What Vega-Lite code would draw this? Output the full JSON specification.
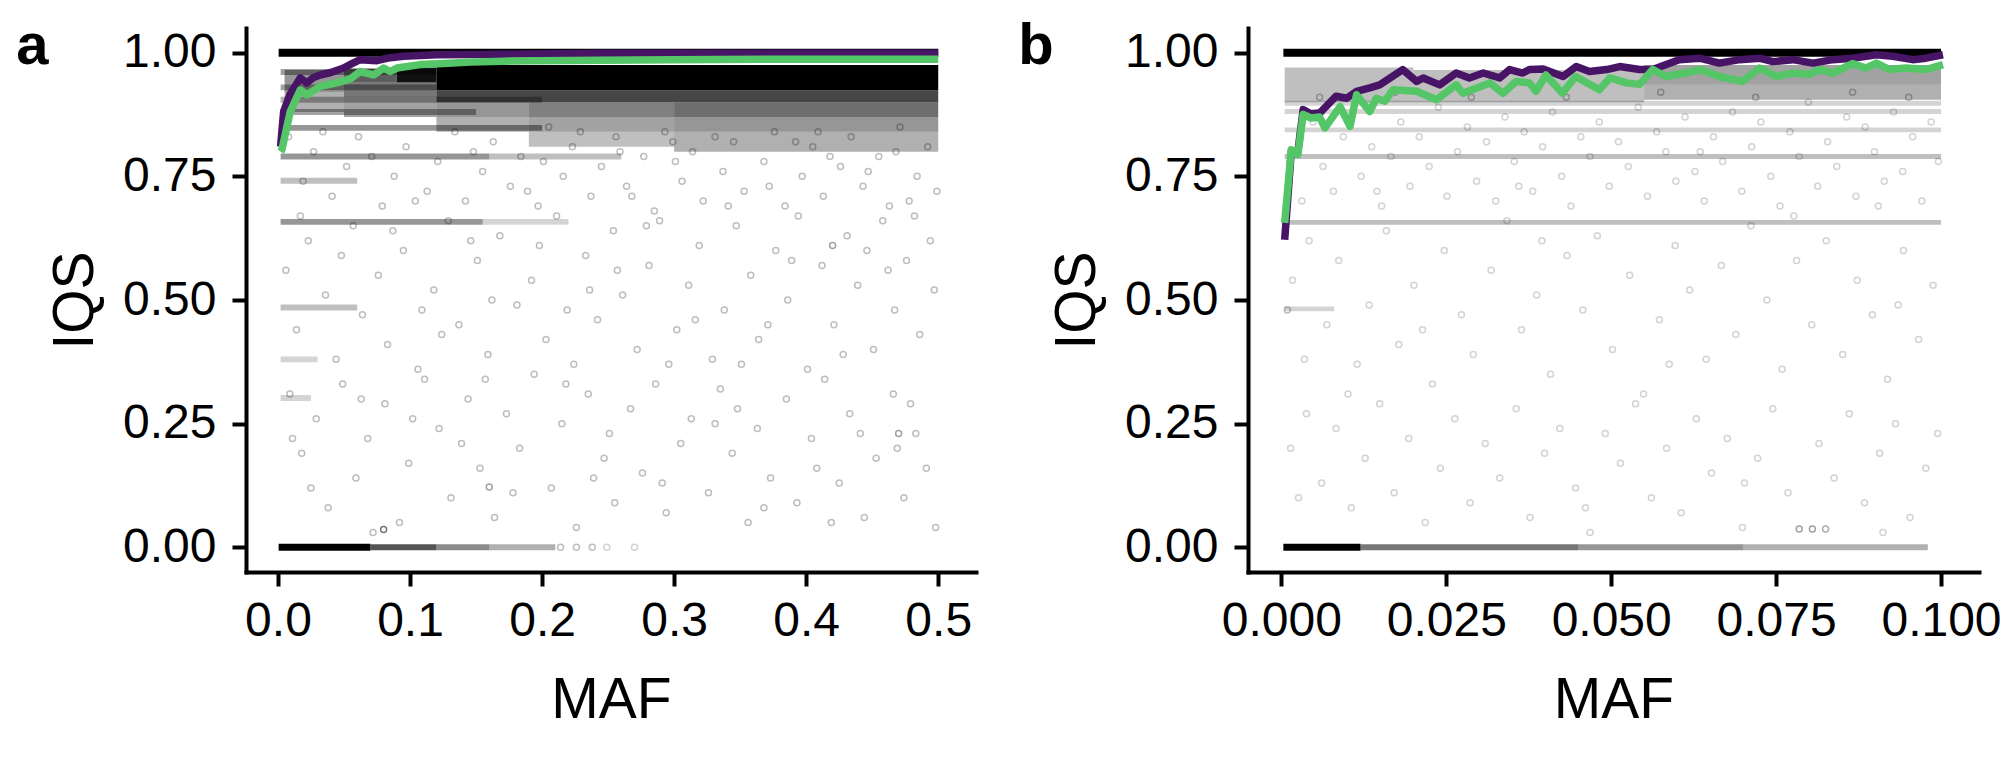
{
  "$schema": "https://vega.github.io/schema/vega-lite/v6.json",
  "background": "white",
  "autosize": {"type": "pad"},
  "padding": {"left": 16, "top": 18, "right": 0, "bottom": 0},
  "config": {
    "view": {"stroke": null},
    "font": "Liberation Sans",
    "axis": {
      "grid": false,
      "domainColor": "black", "domainWidth": 4, "domainCap": "square",
      "tickColor": "black", "tickWidth": 4, "tickSize": 14,
      "labelFont": "Liberation Sans", "labelFontSize": 48, "labelColor": "black",
      "labelFlush": false, "labelOverlap": false,
      "titleFont": "Liberation Sans", "titleFontSize": 57, "titleFontWeight": "normal", "titleColor": "black"
    },
    "axisX": {"labelPadding": 11, "titlePadding": 27},
    "axisY": {"labelPadding": 16, "titlePadding": 18},
    "title": {"font": "Liberation Sans", "fontSize": 58, "fontWeight": "bold", "color": "black", "anchor": "start", "frame": "group", "offset": 0, "baseline": "alphabetic"}
  },
  "datasets": {
    "bands_a": [
      {"maf": 0.0005, "maf_end": 0.5, "iqs": 0.992, "iqs_end": 1.008, "n": 40},
      {"maf": 0.12, "maf_end": 0.5, "iqs": 0.955, "iqs_end": 0.975, "n": 40},
      {"maf": 0.12, "maf_end": 0.5, "iqs": 0.937, "iqs_end": 0.955, "n": 25},
      {"maf": 0.12, "maf_end": 0.5, "iqs": 0.924, "iqs_end": 0.937, "n": 40},
      {"maf": 0.12, "maf_end": 0.5, "iqs": 0.9, "iqs_end": 0.924, "n": 14},
      {"maf": 0.3, "maf_end": 0.5, "iqs": 0.87, "iqs_end": 0.9, "n": 9},
      {"maf": 0.3, "maf_end": 0.5, "iqs": 0.84, "iqs_end": 0.87, "n": 5},
      {"maf": 0.3, "maf_end": 0.5, "iqs": 0.8, "iqs_end": 0.84, "n": 3},
      {"maf": 0.19, "maf_end": 0.3, "iqs": 0.87, "iqs_end": 0.9, "n": 7},
      {"maf": 0.19, "maf_end": 0.3, "iqs": 0.84, "iqs_end": 0.87, "n": 4},
      {"maf": 0.19, "maf_end": 0.3, "iqs": 0.81, "iqs_end": 0.84, "n": 2},
      {"maf": 0.12, "maf_end": 0.19, "iqs": 0.87, "iqs_end": 0.9, "n": 5},
      {"maf": 0.12, "maf_end": 0.19, "iqs": 0.84, "iqs_end": 0.87, "n": 3},
      {"maf": 0.09, "maf_end": 0.12, "iqs": 0.94, "iqs_end": 0.97, "n": 22},
      {"maf": 0.05, "maf_end": 0.09, "iqs": 0.94, "iqs_end": 0.968, "n": 11},
      {"maf": 0.05, "maf_end": 0.12, "iqs": 0.91, "iqs_end": 0.94, "n": 8},
      {"maf": 0.05, "maf_end": 0.12, "iqs": 0.87, "iqs_end": 0.91, "n": 4},
      {"maf": 0.005, "maf_end": 0.05, "iqs": 0.92, "iqs_end": 0.965, "n": 5},
      {"maf": 0.005, "maf_end": 0.05, "iqs": 0.88, "iqs_end": 0.92, "n": 3},
      {"maf": 0.002, "maf_end": 0.12, "iqs": 0.955, "iqs_end": 0.967, "n": 4},
      {"maf": 0.002, "maf_end": 0.12, "iqs": 0.924, "iqs_end": 0.936, "n": 4},
      {"maf": 0.002, "maf_end": 0.2, "iqs": 0.899, "iqs_end": 0.911, "n": 3},
      {"maf": 0.002, "maf_end": 0.15, "iqs": 0.874, "iqs_end": 0.886, "n": 4},
      {"maf": 0.002, "maf_end": 0.2, "iqs": 0.842, "iqs_end": 0.854, "n": 5},
      {"maf": 0.002, "maf_end": 0.16, "iqs": 0.784, "iqs_end": 0.796, "n": 5},
      {"maf": 0.16, "maf_end": 0.26, "iqs": 0.784, "iqs_end": 0.796, "n": 2},
      {"maf": 0.002, "maf_end": 0.06, "iqs": 0.735, "iqs_end": 0.747, "n": 2},
      {"maf": 0.002, "maf_end": 0.155, "iqs": 0.652, "iqs_end": 0.664, "n": 5},
      {"maf": 0.155, "maf_end": 0.22, "iqs": 0.652, "iqs_end": 0.664, "n": 1},
      {"maf": 0.002, "maf_end": 0.06, "iqs": 0.479, "iqs_end": 0.491, "n": 2},
      {"maf": 0.002, "maf_end": 0.03, "iqs": 0.374, "iqs_end": 0.386, "n": 1},
      {"maf": 0.002, "maf_end": 0.025, "iqs": 0.296, "iqs_end": 0.308, "n": 1},
      {"maf": 0.0005, "maf_end": 0.07, "iqs": -0.007, "iqs_end": 0.007, "n": 40},
      {"maf": 0.07, "maf_end": 0.12, "iqs": -0.006, "iqs_end": 0.006, "n": 12},
      {"maf": 0.12, "maf_end": 0.16, "iqs": -0.006, "iqs_end": 0.006, "n": 6},
      {"maf": 0.16, "maf_end": 0.21, "iqs": -0.006, "iqs_end": 0.006, "n": 3}
    ],
    "bands_b": [
      {"maf": 0.0003, "maf_end": 0.1, "iqs": 0.992, "iqs_end": 1.008, "n": 40},
      {"maf": 0.055, "maf_end": 0.1, "iqs": 0.935, "iqs_end": 0.975, "n": 4},
      {"maf": 0.055, "maf_end": 0.1, "iqs": 0.905, "iqs_end": 0.935, "n": 3},
      {"maf": 0.02, "maf_end": 0.055, "iqs": 0.925, "iqs_end": 0.965, "n": 2},
      {"maf": 0.02, "maf_end": 0.055, "iqs": 0.9, "iqs_end": 0.925, "n": 2},
      {"maf": 0.0005, "maf_end": 0.02, "iqs": 0.9, "iqs_end": 0.97, "n": 2},
      {"maf": 0.0005, "maf_end": 0.1, "iqs": 0.893, "iqs_end": 0.903, "n": 1},
      {"maf": 0.0005, "maf_end": 0.1, "iqs": 0.876, "iqs_end": 0.886, "n": 1},
      {"maf": 0.0005, "maf_end": 0.1, "iqs": 0.839, "iqs_end": 0.849, "n": 1},
      {"maf": 0.0005, "maf_end": 0.1, "iqs": 0.785, "iqs_end": 0.795, "n": 2},
      {"maf": 0.0005, "maf_end": 0.1, "iqs": 0.652, "iqs_end": 0.662, "n": 2},
      {"maf": 0.0005, "maf_end": 0.008, "iqs": 0.477, "iqs_end": 0.487, "n": 1},
      {"maf": 0.0003, "maf_end": 0.012, "iqs": -0.007, "iqs_end": 0.007, "n": 40},
      {"maf": 0.012, "maf_end": 0.045, "iqs": -0.006, "iqs_end": 0.006, "n": 8},
      {"maf": 0.045, "maf_end": 0.07, "iqs": -0.006, "iqs_end": 0.006, "n": 5},
      {"maf": 0.07, "maf_end": 0.098, "iqs": -0.006, "iqs_end": 0.006, "n": 3}
    ],
    "points_a": [
      {"maf": 0.008, "iqs": 0.83, "n": 2}, {"maf": 0.019, "iqs": 0.74, "n": 2}, {"maf": 0.027, "iqs": 0.8, "n": 2}, {"maf": 0.041, "iqs": 0.71, "n": 2},
      {"maf": 0.052, "iqs": 0.77, "n": 2}, {"maf": 0.061, "iqs": 0.83, "n": 2}, {"maf": 0.079, "iqs": 0.69, "n": 2}, {"maf": 0.088, "iqs": 0.75, "n": 2},
      {"maf": 0.097, "iqs": 0.81, "n": 2}, {"maf": 0.113, "iqs": 0.72, "n": 2}, {"maf": 0.121, "iqs": 0.78, "n": 2}, {"maf": 0.134, "iqs": 0.84, "n": 2},
      {"maf": 0.142, "iqs": 0.7, "n": 2}, {"maf": 0.155, "iqs": 0.76, "n": 2}, {"maf": 0.163, "iqs": 0.82, "n": 2}, {"maf": 0.176, "iqs": 0.73, "n": 2},
      {"maf": 0.184, "iqs": 0.79, "n": 2}, {"maf": 0.197, "iqs": 0.69, "n": 2}, {"maf": 0.205, "iqs": 0.85, "n": 2}, {"maf": 0.216, "iqs": 0.75, "n": 2},
      {"maf": 0.223, "iqs": 0.81, "n": 2}, {"maf": 0.237, "iqs": 0.71, "n": 2}, {"maf": 0.245, "iqs": 0.77, "n": 2}, {"maf": 0.256, "iqs": 0.83, "n": 2},
      {"maf": 0.264, "iqs": 0.73, "n": 2}, {"maf": 0.277, "iqs": 0.79, "n": 2}, {"maf": 0.285, "iqs": 0.68, "n": 2}, {"maf": 0.293, "iqs": 0.84, "n": 2},
      {"maf": 0.306, "iqs": 0.74, "n": 2}, {"maf": 0.314, "iqs": 0.8, "n": 2}, {"maf": 0.322, "iqs": 0.7, "n": 2}, {"maf": 0.337, "iqs": 0.76, "n": 2},
      {"maf": 0.345, "iqs": 0.82, "n": 2}, {"maf": 0.353, "iqs": 0.72, "n": 2}, {"maf": 0.368, "iqs": 0.78, "n": 2}, {"maf": 0.376, "iqs": 0.84, "n": 2},
      {"maf": 0.384, "iqs": 0.69, "n": 2}, {"maf": 0.397, "iqs": 0.75, "n": 2}, {"maf": 0.405, "iqs": 0.81, "n": 2}, {"maf": 0.413, "iqs": 0.71, "n": 2},
      {"maf": 0.426, "iqs": 0.77, "n": 2}, {"maf": 0.434, "iqs": 0.83, "n": 2}, {"maf": 0.443, "iqs": 0.73, "n": 2}, {"maf": 0.455, "iqs": 0.79, "n": 2},
      {"maf": 0.463, "iqs": 0.69, "n": 2}, {"maf": 0.471, "iqs": 0.85, "n": 2}, {"maf": 0.484, "iqs": 0.75, "n": 2}, {"maf": 0.492, "iqs": 0.81, "n": 2},
      {"maf": 0.499, "iqs": 0.72, "n": 2}, {"maf": 0.034, "iqs": 0.84, "n": 2}, {"maf": 0.071, "iqs": 0.79, "n": 2}, {"maf": 0.104, "iqs": 0.7, "n": 2},
      {"maf": 0.148, "iqs": 0.8, "n": 2}, {"maf": 0.189, "iqs": 0.72, "n": 2}, {"maf": 0.229, "iqs": 0.84, "n": 2}, {"maf": 0.268, "iqs": 0.71, "n": 2},
      {"maf": 0.301, "iqs": 0.78, "n": 2}, {"maf": 0.341, "iqs": 0.69, "n": 2}, {"maf": 0.372, "iqs": 0.73, "n": 2}, {"maf": 0.409, "iqs": 0.84, "n": 2},
      {"maf": 0.447, "iqs": 0.76, "n": 2}, {"maf": 0.478, "iqs": 0.7, "n": 2}, {"maf": 0.259, "iqs": 0.8, "n": 2}, {"maf": 0.331, "iqs": 0.83, "n": 2},
      {"maf": 0.418, "iqs": 0.79, "n": 2}, {"maf": 0.468, "iqs": 0.8, "n": 2}, {"maf": 0.392, "iqs": 0.82, "n": 2}, {"maf": 0.299, "iqs": 0.82, "n": 2},
      {"maf": 0.201, "iqs": 0.78, "n": 2},
      {"maf": 0.006, "iqs": 0.56, "n": 2}, {"maf": 0.014, "iqs": 0.44, "n": 2}, {"maf": 0.023, "iqs": 0.62, "n": 2}, {"maf": 0.036, "iqs": 0.51, "n": 2},
      {"maf": 0.044, "iqs": 0.38, "n": 2}, {"maf": 0.057, "iqs": 0.65, "n": 2}, {"maf": 0.064, "iqs": 0.47, "n": 2}, {"maf": 0.076, "iqs": 0.55, "n": 2},
      {"maf": 0.083, "iqs": 0.41, "n": 2}, {"maf": 0.095, "iqs": 0.6, "n": 2}, {"maf": 0.106, "iqs": 0.36, "n": 2}, {"maf": 0.118, "iqs": 0.52, "n": 2},
      {"maf": 0.129, "iqs": 0.66, "n": 2}, {"maf": 0.137, "iqs": 0.45, "n": 2}, {"maf": 0.151, "iqs": 0.58, "n": 2}, {"maf": 0.159, "iqs": 0.39, "n": 2},
      {"maf": 0.168, "iqs": 0.63, "n": 2}, {"maf": 0.181, "iqs": 0.49, "n": 2}, {"maf": 0.192, "iqs": 0.54, "n": 2}, {"maf": 0.203, "iqs": 0.42, "n": 2},
      {"maf": 0.211, "iqs": 0.67, "n": 2}, {"maf": 0.224, "iqs": 0.37, "n": 2}, {"maf": 0.233, "iqs": 0.59, "n": 2}, {"maf": 0.242, "iqs": 0.46, "n": 2},
      {"maf": 0.254, "iqs": 0.64, "n": 2}, {"maf": 0.261, "iqs": 0.51, "n": 2}, {"maf": 0.272, "iqs": 0.4, "n": 2}, {"maf": 0.281, "iqs": 0.57, "n": 2},
      {"maf": 0.289, "iqs": 0.66, "n": 2}, {"maf": 0.302, "iqs": 0.44, "n": 2}, {"maf": 0.311, "iqs": 0.53, "n": 2}, {"maf": 0.319, "iqs": 0.61, "n": 2},
      {"maf": 0.329, "iqs": 0.38, "n": 2}, {"maf": 0.338, "iqs": 0.48, "n": 2}, {"maf": 0.347, "iqs": 0.65, "n": 2}, {"maf": 0.358, "iqs": 0.55, "n": 2},
      {"maf": 0.364, "iqs": 0.42, "n": 2}, {"maf": 0.377, "iqs": 0.6, "n": 2}, {"maf": 0.386, "iqs": 0.5, "n": 2}, {"maf": 0.394, "iqs": 0.67, "n": 2},
      {"maf": 0.401, "iqs": 0.36, "n": 2}, {"maf": 0.412, "iqs": 0.57, "n": 2}, {"maf": 0.421, "iqs": 0.45, "n": 2}, {"maf": 0.431, "iqs": 0.63, "n": 2},
      {"maf": 0.439, "iqs": 0.53, "n": 2}, {"maf": 0.451, "iqs": 0.4, "n": 2}, {"maf": 0.458, "iqs": 0.66, "n": 2}, {"maf": 0.467, "iqs": 0.48, "n": 2},
      {"maf": 0.476, "iqs": 0.58, "n": 2}, {"maf": 0.486, "iqs": 0.43, "n": 2}, {"maf": 0.494, "iqs": 0.62, "n": 2}, {"maf": 0.017, "iqs": 0.67, "n": 2},
      {"maf": 0.048, "iqs": 0.59, "n": 2}, {"maf": 0.087, "iqs": 0.64, "n": 2}, {"maf": 0.124, "iqs": 0.43, "n": 2}, {"maf": 0.162, "iqs": 0.5, "n": 2},
      {"maf": 0.198, "iqs": 0.61, "n": 2}, {"maf": 0.236, "iqs": 0.52, "n": 2}, {"maf": 0.279, "iqs": 0.65, "n": 2}, {"maf": 0.316, "iqs": 0.46, "n": 2},
      {"maf": 0.351, "iqs": 0.37, "n": 2}, {"maf": 0.389, "iqs": 0.58, "n": 2}, {"maf": 0.428, "iqs": 0.39, "n": 2}, {"maf": 0.462, "iqs": 0.56, "n": 2},
      {"maf": 0.497, "iqs": 0.52, "n": 2}, {"maf": 0.109, "iqs": 0.48, "n": 2}, {"maf": 0.146, "iqs": 0.62, "n": 2}, {"maf": 0.219, "iqs": 0.48, "n": 2},
      {"maf": 0.257, "iqs": 0.56, "n": 2}, {"maf": 0.296, "iqs": 0.37, "n": 2}, {"maf": 0.371, "iqs": 0.45, "n": 2}, {"maf": 0.446, "iqs": 0.6, "n": 2},
      {"maf": 0.482, "iqs": 0.67, "n": 2},
      {"maf": 0.009, "iqs": 0.31, "n": 2}, {"maf": 0.018, "iqs": 0.19, "n": 2}, {"maf": 0.029, "iqs": 0.26, "n": 2}, {"maf": 0.038, "iqs": 0.08, "n": 2},
      {"maf": 0.049, "iqs": 0.33, "n": 2}, {"maf": 0.059, "iqs": 0.14, "n": 2}, {"maf": 0.068, "iqs": 0.22, "n": 2}, {"maf": 0.081, "iqs": 0.29, "n": 2},
      {"maf": 0.092, "iqs": 0.05, "n": 2}, {"maf": 0.099, "iqs": 0.17, "n": 2}, {"maf": 0.111, "iqs": 0.34, "n": 2}, {"maf": 0.122, "iqs": 0.24, "n": 2},
      {"maf": 0.131, "iqs": 0.1, "n": 2}, {"maf": 0.144, "iqs": 0.3, "n": 2}, {"maf": 0.153, "iqs": 0.16, "n": 2}, {"maf": 0.164, "iqs": 0.06, "n": 2},
      {"maf": 0.173, "iqs": 0.27, "n": 2}, {"maf": 0.183, "iqs": 0.2, "n": 2}, {"maf": 0.194, "iqs": 0.35, "n": 2}, {"maf": 0.207, "iqs": 0.12, "n": 2},
      {"maf": 0.215, "iqs": 0.25, "n": 2}, {"maf": 0.226, "iqs": 0.04, "n": 2}, {"maf": 0.235, "iqs": 0.31, "n": 2}, {"maf": 0.247, "iqs": 0.18, "n": 2},
      {"maf": 0.255, "iqs": 0.09, "n": 2}, {"maf": 0.267, "iqs": 0.28, "n": 2}, {"maf": 0.276, "iqs": 0.15, "n": 2}, {"maf": 0.286, "iqs": 0.33, "n": 2},
      {"maf": 0.294, "iqs": 0.07, "n": 2}, {"maf": 0.305, "iqs": 0.21, "n": 2}, {"maf": 0.313, "iqs": 0.26, "n": 2}, {"maf": 0.326, "iqs": 0.11, "n": 2},
      {"maf": 0.335, "iqs": 0.32, "n": 2}, {"maf": 0.344, "iqs": 0.19, "n": 2}, {"maf": 0.356, "iqs": 0.05, "n": 2}, {"maf": 0.363, "iqs": 0.24, "n": 2},
      {"maf": 0.373, "iqs": 0.14, "n": 2}, {"maf": 0.385, "iqs": 0.3, "n": 2}, {"maf": 0.393, "iqs": 0.09, "n": 2}, {"maf": 0.404, "iqs": 0.22, "n": 2},
      {"maf": 0.414, "iqs": 0.34, "n": 2}, {"maf": 0.425, "iqs": 0.13, "n": 2}, {"maf": 0.433, "iqs": 0.27, "n": 2}, {"maf": 0.444, "iqs": 0.06, "n": 2},
      {"maf": 0.453, "iqs": 0.18, "n": 2}, {"maf": 0.466, "iqs": 0.31, "n": 2}, {"maf": 0.474, "iqs": 0.1, "n": 2}, {"maf": 0.483, "iqs": 0.23, "n": 2},
      {"maf": 0.491, "iqs": 0.16, "n": 2}, {"maf": 0.498, "iqs": 0.04, "n": 2}, {"maf": 0.025, "iqs": 0.12, "n": 2}, {"maf": 0.063, "iqs": 0.3, "n": 2},
      {"maf": 0.102, "iqs": 0.26, "n": 2}, {"maf": 0.139, "iqs": 0.21, "n": 2}, {"maf": 0.178, "iqs": 0.11, "n": 2}, {"maf": 0.218, "iqs": 0.33, "n": 2},
      {"maf": 0.251, "iqs": 0.23, "n": 2}, {"maf": 0.291, "iqs": 0.13, "n": 2}, {"maf": 0.331, "iqs": 0.25, "n": 2}, {"maf": 0.368, "iqs": 0.08, "n": 2},
      {"maf": 0.408, "iqs": 0.16, "n": 2}, {"maf": 0.441, "iqs": 0.23, "n": 2}, {"maf": 0.479, "iqs": 0.29, "n": 2}, {"maf": 0.011, "iqs": 0.22, "n": 2},
      {"maf": 0.072, "iqs": 0.03, "n": 2}, {"maf": 0.157, "iqs": 0.34, "n": 2}, {"maf": 0.239, "iqs": 0.14, "n": 2}, {"maf": 0.348, "iqs": 0.28, "n": 2},
      {"maf": 0.419, "iqs": 0.05, "n": 2}, {"maf": 0.469, "iqs": 0.2, "n": 2},
      {"maf": 0.214, "iqs": 0, "n": 2}, {"maf": 0.226, "iqs": 0, "n": 2}, {"maf": 0.238, "iqs": 0, "n": 2}, {"maf": 0.249, "iqs": 0, "n": 1},
      {"maf": 0.27, "iqs": 0, "n": 1},
      {"maf": 0.08, "iqs": 0.036, "n": 8}, {"maf": 0.42, "iqs": 0.61, "n": 4}, {"maf": 0.47, "iqs": 0.23, "n": 4}, {"maf": 0.16, "iqs": 0.122, "n": 4}
    ],
    "points_b": [
      {"maf": 0.0012, "iqs": 0.74, "n": 1}, {"maf": 0.0031, "iqs": 0.7, "n": 1}, {"maf": 0.0048, "iqs": 0.86, "n": 1}, {"maf": 0.0063, "iqs": 0.77, "n": 1},
      {"maf": 0.0079, "iqs": 0.72, "n": 1}, {"maf": 0.0094, "iqs": 0.83, "n": 1}, {"maf": 0.0108, "iqs": 0.88, "n": 1}, {"maf": 0.0121, "iqs": 0.75, "n": 1},
      {"maf": 0.0137, "iqs": 0.81, "n": 1}, {"maf": 0.0152, "iqs": 0.69, "n": 1}, {"maf": 0.0166, "iqs": 0.79, "n": 1}, {"maf": 0.0181, "iqs": 0.86, "n": 1},
      {"maf": 0.0195, "iqs": 0.73, "n": 1}, {"maf": 0.0209, "iqs": 0.83, "n": 1}, {"maf": 0.0224, "iqs": 0.77, "n": 1}, {"maf": 0.0238, "iqs": 0.89, "n": 1},
      {"maf": 0.0251, "iqs": 0.71, "n": 1}, {"maf": 0.0267, "iqs": 0.8, "n": 1}, {"maf": 0.0282, "iqs": 0.85, "n": 1}, {"maf": 0.0296, "iqs": 0.74, "n": 1},
      {"maf": 0.0311, "iqs": 0.82, "n": 1}, {"maf": 0.0325, "iqs": 0.7, "n": 1}, {"maf": 0.0339, "iqs": 0.87, "n": 1}, {"maf": 0.0353, "iqs": 0.78, "n": 1},
      {"maf": 0.0368, "iqs": 0.84, "n": 1}, {"maf": 0.0381, "iqs": 0.72, "n": 1}, {"maf": 0.0396, "iqs": 0.81, "n": 1}, {"maf": 0.0411, "iqs": 0.88, "n": 1},
      {"maf": 0.0425, "iqs": 0.75, "n": 1}, {"maf": 0.0439, "iqs": 0.69, "n": 1}, {"maf": 0.0454, "iqs": 0.83, "n": 1}, {"maf": 0.0468, "iqs": 0.79, "n": 1},
      {"maf": 0.0482, "iqs": 0.86, "n": 1}, {"maf": 0.0497, "iqs": 0.73, "n": 1}, {"maf": 0.0511, "iqs": 0.82, "n": 1}, {"maf": 0.0526, "iqs": 0.77, "n": 1},
      {"maf": 0.0541, "iqs": 0.89, "n": 1}, {"maf": 0.0555, "iqs": 0.71, "n": 1}, {"maf": 0.0569, "iqs": 0.84, "n": 1}, {"maf": 0.0583, "iqs": 0.8, "n": 1},
      {"maf": 0.0598, "iqs": 0.74, "n": 1}, {"maf": 0.0612, "iqs": 0.87, "n": 1}, {"maf": 0.0627, "iqs": 0.76, "n": 1}, {"maf": 0.0641, "iqs": 0.7, "n": 1},
      {"maf": 0.0655, "iqs": 0.83, "n": 1}, {"maf": 0.0669, "iqs": 0.78, "n": 1}, {"maf": 0.0684, "iqs": 0.88, "n": 1}, {"maf": 0.0698, "iqs": 0.72, "n": 1},
      {"maf": 0.0713, "iqs": 0.81, "n": 1}, {"maf": 0.0727, "iqs": 0.86, "n": 1}, {"maf": 0.0742, "iqs": 0.75, "n": 1}, {"maf": 0.0756, "iqs": 0.69, "n": 1},
      {"maf": 0.0771, "iqs": 0.84, "n": 1}, {"maf": 0.0785, "iqs": 0.79, "n": 1}, {"maf": 0.0799, "iqs": 0.9, "n": 1}, {"maf": 0.0813, "iqs": 0.73, "n": 1},
      {"maf": 0.0828, "iqs": 0.82, "n": 1}, {"maf": 0.0842, "iqs": 0.77, "n": 1}, {"maf": 0.0857, "iqs": 0.87, "n": 1}, {"maf": 0.0871, "iqs": 0.71, "n": 1},
      {"maf": 0.0885, "iqs": 0.85, "n": 1}, {"maf": 0.0899, "iqs": 0.8, "n": 1}, {"maf": 0.0914, "iqs": 0.74, "n": 1}, {"maf": 0.0928, "iqs": 0.88, "n": 1},
      {"maf": 0.0942, "iqs": 0.76, "n": 1}, {"maf": 0.0957, "iqs": 0.83, "n": 1}, {"maf": 0.0971, "iqs": 0.7, "n": 1}, {"maf": 0.0985, "iqs": 0.86, "n": 1},
      {"maf": 0.0996, "iqs": 0.78, "n": 1}, {"maf": 0.0058, "iqs": 0.91, "n": 2}, {"maf": 0.0172, "iqs": 0.92, "n": 2}, {"maf": 0.0288, "iqs": 0.91, "n": 2},
      {"maf": 0.0432, "iqs": 0.91, "n": 2}, {"maf": 0.0575, "iqs": 0.92, "n": 2}, {"maf": 0.0719, "iqs": 0.91, "n": 2}, {"maf": 0.0866, "iqs": 0.92, "n": 2},
      {"maf": 0.0951, "iqs": 0.91, "n": 2}, {"maf": 0.0023, "iqs": 0.8, "n": 1}, {"maf": 0.0145, "iqs": 0.72, "n": 1}, {"maf": 0.036, "iqs": 0.73, "n": 1},
      {"maf": 0.0635, "iqs": 0.8, "n": 1}, {"maf": 0.0905, "iqs": 0.69, "n": 1},
      {"maf": 0.0017, "iqs": 0.54, "n": 1}, {"maf": 0.0042, "iqs": 0.62, "n": 1}, {"maf": 0.0069, "iqs": 0.45, "n": 1}, {"maf": 0.0087, "iqs": 0.58, "n": 1},
      {"maf": 0.0115, "iqs": 0.37, "n": 1}, {"maf": 0.0133, "iqs": 0.49, "n": 1}, {"maf": 0.0159, "iqs": 0.64, "n": 1}, {"maf": 0.0178, "iqs": 0.41, "n": 1},
      {"maf": 0.0201, "iqs": 0.53, "n": 1}, {"maf": 0.0229, "iqs": 0.33, "n": 1}, {"maf": 0.0247, "iqs": 0.6, "n": 1}, {"maf": 0.0273, "iqs": 0.47, "n": 1},
      {"maf": 0.0291, "iqs": 0.39, "n": 1}, {"maf": 0.0318, "iqs": 0.56, "n": 1}, {"maf": 0.0342, "iqs": 0.66, "n": 1}, {"maf": 0.0364, "iqs": 0.44, "n": 1},
      {"maf": 0.0387, "iqs": 0.51, "n": 1}, {"maf": 0.0408, "iqs": 0.35, "n": 1}, {"maf": 0.0433, "iqs": 0.59, "n": 1}, {"maf": 0.0457, "iqs": 0.48, "n": 1},
      {"maf": 0.0479, "iqs": 0.63, "n": 1}, {"maf": 0.0502, "iqs": 0.4, "n": 1}, {"maf": 0.0528, "iqs": 0.55, "n": 1}, {"maf": 0.0549, "iqs": 0.31, "n": 1},
      {"maf": 0.0573, "iqs": 0.46, "n": 1}, {"maf": 0.0597, "iqs": 0.61, "n": 1}, {"maf": 0.0619, "iqs": 0.52, "n": 1}, {"maf": 0.0644, "iqs": 0.38, "n": 1},
      {"maf": 0.0667, "iqs": 0.57, "n": 1}, {"maf": 0.0689, "iqs": 0.43, "n": 1}, {"maf": 0.0712, "iqs": 0.65, "n": 1}, {"maf": 0.0736, "iqs": 0.5, "n": 1},
      {"maf": 0.0759, "iqs": 0.36, "n": 1}, {"maf": 0.0781, "iqs": 0.58, "n": 1}, {"maf": 0.0804, "iqs": 0.45, "n": 1}, {"maf": 0.0826, "iqs": 0.62, "n": 1},
      {"maf": 0.0851, "iqs": 0.39, "n": 1}, {"maf": 0.0873, "iqs": 0.54, "n": 1}, {"maf": 0.0896, "iqs": 0.47, "n": 1}, {"maf": 0.0919, "iqs": 0.34, "n": 1},
      {"maf": 0.0943, "iqs": 0.6, "n": 1}, {"maf": 0.0966, "iqs": 0.42, "n": 1}, {"maf": 0.0988, "iqs": 0.53, "n": 1}, {"maf": 0.0009, "iqs": 0.48, "n": 2},
      {"maf": 0.0035, "iqs": 0.38, "n": 1}, {"maf": 0.0214, "iqs": 0.44, "n": 1}, {"maf": 0.0395, "iqs": 0.62, "n": 1}, {"maf": 0.0588, "iqs": 0.37, "n": 1},
      {"maf": 0.0777, "iqs": 0.67, "n": 1}, {"maf": 0.0935, "iqs": 0.49, "n": 1}, {"maf": 0.0101, "iqs": 0.31, "n": 1},
      {"maf": 0.0014, "iqs": 0.2, "n": 1}, {"maf": 0.0038, "iqs": 0.27, "n": 1}, {"maf": 0.0061, "iqs": 0.13, "n": 1}, {"maf": 0.0083, "iqs": 0.24, "n": 1},
      {"maf": 0.0106, "iqs": 0.08, "n": 1}, {"maf": 0.0127, "iqs": 0.18, "n": 1}, {"maf": 0.0149, "iqs": 0.29, "n": 1}, {"maf": 0.0171, "iqs": 0.11, "n": 1},
      {"maf": 0.0193, "iqs": 0.22, "n": 1}, {"maf": 0.0218, "iqs": 0.05, "n": 1}, {"maf": 0.0241, "iqs": 0.16, "n": 1}, {"maf": 0.0263, "iqs": 0.26, "n": 1},
      {"maf": 0.0286, "iqs": 0.09, "n": 1}, {"maf": 0.0309, "iqs": 0.21, "n": 1}, {"maf": 0.0331, "iqs": 0.14, "n": 1}, {"maf": 0.0356, "iqs": 0.28, "n": 1},
      {"maf": 0.0377, "iqs": 0.06, "n": 1}, {"maf": 0.0399, "iqs": 0.19, "n": 1}, {"maf": 0.0422, "iqs": 0.24, "n": 1}, {"maf": 0.0446, "iqs": 0.12, "n": 1},
      {"maf": 0.0468, "iqs": 0.03, "n": 1}, {"maf": 0.0491, "iqs": 0.23, "n": 1}, {"maf": 0.0514, "iqs": 0.17, "n": 1}, {"maf": 0.0537, "iqs": 0.29, "n": 1},
      {"maf": 0.0561, "iqs": 0.1, "n": 1}, {"maf": 0.0584, "iqs": 0.2, "n": 1}, {"maf": 0.0606, "iqs": 0.07, "n": 1}, {"maf": 0.0629, "iqs": 0.26, "n": 1},
      {"maf": 0.0652, "iqs": 0.15, "n": 1}, {"maf": 0.0676, "iqs": 0.22, "n": 1}, {"maf": 0.0699, "iqs": 0.04, "n": 1}, {"maf": 0.0722, "iqs": 0.18, "n": 1},
      {"maf": 0.0745, "iqs": 0.28, "n": 1}, {"maf": 0.0768, "iqs": 0.11, "n": 1}, {"maf": 0.0815, "iqs": 0.21, "n": 1}, {"maf": 0.0838, "iqs": 0.14, "n": 1},
      {"maf": 0.0861, "iqs": 0.27, "n": 1}, {"maf": 0.0884, "iqs": 0.09, "n": 1}, {"maf": 0.0907, "iqs": 0.19, "n": 1}, {"maf": 0.0931, "iqs": 0.25, "n": 1},
      {"maf": 0.0953, "iqs": 0.06, "n": 1}, {"maf": 0.0977, "iqs": 0.16, "n": 1}, {"maf": 0.0995, "iqs": 0.23, "n": 1}, {"maf": 0.0026, "iqs": 0.1, "n": 1},
      {"maf": 0.0461, "iqs": 0.08, "n": 1}, {"maf": 0.0702, "iqs": 0.13, "n": 1}, {"maf": 0.0912, "iqs": 0.03, "n": 1},
      {"maf": 0.0785, "iqs": 0.037, "n": 4}, {"maf": 0.0805, "iqs": 0.037, "n": 4}, {"maf": 0.0825, "iqs": 0.037, "n": 3}
    ],
    "fits_a": [
      {"maf": 0.002, "iqs": 0.81, "method": "m1"}, {"maf": 0.0043, "iqs": 0.881, "method": "m1"}, {"maf": 0.009, "iqs": 0.915, "method": "m1"},
      {"maf": 0.0169, "iqs": 0.949, "method": "m1"}, {"maf": 0.0219, "iqs": 0.939, "method": "m1"}, {"maf": 0.027, "iqs": 0.95, "method": "m1"},
      {"maf": 0.032, "iqs": 0.955, "method": "m1"}, {"maf": 0.04, "iqs": 0.96, "method": "m1"}, {"maf": 0.0497, "iqs": 0.969, "method": "m1"},
      {"maf": 0.056, "iqs": 0.978, "method": "m1"}, {"maf": 0.0623, "iqs": 0.986, "method": "m1"}, {"maf": 0.0749, "iqs": 0.984, "method": "m1"},
      {"maf": 0.085, "iqs": 0.99, "method": "m1"}, {"maf": 0.0951, "iqs": 0.993, "method": "m1"}, {"maf": 0.1203, "iqs": 0.996, "method": "m1"},
      {"maf": 0.1708, "iqs": 0.997, "method": "m1"}, {"maf": 0.244, "iqs": 0.999, "method": "m1"}, {"maf": 0.3, "iqs": 0.999, "method": "m1"},
      {"maf": 0.4, "iqs": 0.999, "method": "m1"}, {"maf": 0.5, "iqs": 0.999, "method": "m1"},
      {"maf": 0.002, "iqs": 0.8, "method": "m2"}, {"maf": 0.003, "iqs": 0.804, "method": "m2"}, {"maf": 0.0093, "iqs": 0.881, "method": "m2"},
      {"maf": 0.0169, "iqs": 0.925, "method": "m2"}, {"maf": 0.0219, "iqs": 0.915, "method": "m2"}, {"maf": 0.032, "iqs": 0.932, "method": "m2"},
      {"maf": 0.0446, "iqs": 0.939, "method": "m2"}, {"maf": 0.0547, "iqs": 0.947, "method": "m2"}, {"maf": 0.0623, "iqs": 0.962, "method": "m2"},
      {"maf": 0.0724, "iqs": 0.955, "method": "m2"}, {"maf": 0.08, "iqs": 0.969, "method": "m2"}, {"maf": 0.085, "iqs": 0.962, "method": "m2"},
      {"maf": 0.0901, "iqs": 0.969, "method": "m2"}, {"maf": 0.1077, "iqs": 0.976, "method": "m2"}, {"maf": 0.1254, "iqs": 0.978, "method": "m2"},
      {"maf": 0.1456, "iqs": 0.981, "method": "m2"}, {"maf": 0.1708, "iqs": 0.983, "method": "m2"}, {"maf": 0.196, "iqs": 0.984, "method": "m2"},
      {"maf": 0.244, "iqs": 0.985, "method": "m2"}, {"maf": 0.3, "iqs": 0.986, "method": "m2"}, {"maf": 0.4, "iqs": 0.987, "method": "m2"},
      {"maf": 0.5, "iqs": 0.987, "method": "m2"}
    ],
    "fits_b": [
      {"maf": 0.0005, "iqs": 0.622, "method": "m1"}, {"maf": 0.0015, "iqs": 0.8, "method": "m1"}, {"maf": 0.0025, "iqs": 0.8, "method": "m1"},
      {"maf": 0.0033, "iqs": 0.885, "method": "m1"}, {"maf": 0.0045, "iqs": 0.876, "method": "m1"}, {"maf": 0.0058, "iqs": 0.878, "method": "m1"},
      {"maf": 0.0083, "iqs": 0.912, "method": "m1"}, {"maf": 0.0099, "iqs": 0.908, "method": "m1"}, {"maf": 0.0114, "iqs": 0.922, "method": "m1"},
      {"maf": 0.0134, "iqs": 0.929, "method": "m1"}, {"maf": 0.0149, "iqs": 0.935, "method": "m1"}, {"maf": 0.0184, "iqs": 0.966, "method": "m1"},
      {"maf": 0.0205, "iqs": 0.942, "method": "m1"}, {"maf": 0.0215, "iqs": 0.949, "method": "m1"}, {"maf": 0.024, "iqs": 0.935, "method": "m1"},
      {"maf": 0.0265, "iqs": 0.959, "method": "m1"}, {"maf": 0.0285, "iqs": 0.949, "method": "m1"}, {"maf": 0.0306, "iqs": 0.959, "method": "m1"},
      {"maf": 0.0331, "iqs": 0.949, "method": "m1"}, {"maf": 0.0346, "iqs": 0.966, "method": "m1"}, {"maf": 0.0366, "iqs": 0.959, "method": "m1"},
      {"maf": 0.0376, "iqs": 0.966, "method": "m1"}, {"maf": 0.0397, "iqs": 0.967, "method": "m1"}, {"maf": 0.0427, "iqs": 0.952, "method": "m1"},
      {"maf": 0.0447, "iqs": 0.972, "method": "m1"}, {"maf": 0.0467, "iqs": 0.962, "method": "m1"}, {"maf": 0.0493, "iqs": 0.966, "method": "m1"},
      {"maf": 0.0513, "iqs": 0.972, "method": "m1"}, {"maf": 0.0543, "iqs": 0.966, "method": "m1"}, {"maf": 0.0563, "iqs": 0.966, "method": "m1"},
      {"maf": 0.0603, "iqs": 0.986, "method": "m1"}, {"maf": 0.0634, "iqs": 0.989, "method": "m1"}, {"maf": 0.0664, "iqs": 0.979, "method": "m1"},
      {"maf": 0.0695, "iqs": 0.986, "method": "m1"}, {"maf": 0.0725, "iqs": 0.989, "method": "m1"}, {"maf": 0.0745, "iqs": 0.982, "method": "m1"},
      {"maf": 0.0775, "iqs": 0.986, "method": "m1"}, {"maf": 0.0806, "iqs": 0.979, "method": "m1"}, {"maf": 0.0836, "iqs": 0.986, "method": "m1"},
      {"maf": 0.0866, "iqs": 0.989, "method": "m1"}, {"maf": 0.0902, "iqs": 0.996, "method": "m1"}, {"maf": 0.0927, "iqs": 0.993, "method": "m1"},
      {"maf": 0.0957, "iqs": 0.986, "method": "m1"}, {"maf": 0.0977, "iqs": 0.989, "method": "m1"}, {"maf": 0.1003, "iqs": 0.996, "method": "m1"},
      {"maf": 0.0005, "iqs": 0.656, "method": "m2"}, {"maf": 0.0015, "iqs": 0.804, "method": "m2"}, {"maf": 0.0025, "iqs": 0.794, "method": "m2"},
      {"maf": 0.0033, "iqs": 0.875, "method": "m2"}, {"maf": 0.0045, "iqs": 0.868, "method": "m2"}, {"maf": 0.0058, "iqs": 0.87, "method": "m2"},
      {"maf": 0.0066, "iqs": 0.848, "method": "m2"}, {"maf": 0.0089, "iqs": 0.891, "method": "m2"}, {"maf": 0.0104, "iqs": 0.851, "method": "m2"},
      {"maf": 0.0114, "iqs": 0.915, "method": "m2"}, {"maf": 0.0134, "iqs": 0.881, "method": "m2"}, {"maf": 0.0144, "iqs": 0.908, "method": "m2"},
      {"maf": 0.0157, "iqs": 0.902, "method": "m2"}, {"maf": 0.0169, "iqs": 0.925, "method": "m2"}, {"maf": 0.0205, "iqs": 0.922, "method": "m2"},
      {"maf": 0.0235, "iqs": 0.905, "method": "m2"}, {"maf": 0.0265, "iqs": 0.935, "method": "m2"}, {"maf": 0.0275, "iqs": 0.918, "method": "m2"},
      {"maf": 0.0316, "iqs": 0.939, "method": "m2"}, {"maf": 0.0336, "iqs": 0.918, "method": "m2"}, {"maf": 0.0356, "iqs": 0.942, "method": "m2"},
      {"maf": 0.0376, "iqs": 0.939, "method": "m2"}, {"maf": 0.0386, "iqs": 0.922, "method": "m2"}, {"maf": 0.0401, "iqs": 0.955, "method": "m2"},
      {"maf": 0.0426, "iqs": 0.918, "method": "m2"}, {"maf": 0.0446, "iqs": 0.952, "method": "m2"}, {"maf": 0.0482, "iqs": 0.925, "method": "m2"},
      {"maf": 0.0498, "iqs": 0.949, "method": "m2"}, {"maf": 0.0523, "iqs": 0.939, "method": "m2"}, {"maf": 0.0543, "iqs": 0.936, "method": "m2"},
      {"maf": 0.0563, "iqs": 0.966, "method": "m2"}, {"maf": 0.0583, "iqs": 0.952, "method": "m2"}, {"maf": 0.0613, "iqs": 0.959, "method": "m2"},
      {"maf": 0.0634, "iqs": 0.966, "method": "m2"}, {"maf": 0.0664, "iqs": 0.952, "method": "m2"}, {"maf": 0.0699, "iqs": 0.942, "method": "m2"},
      {"maf": 0.0725, "iqs": 0.969, "method": "m2"}, {"maf": 0.075, "iqs": 0.952, "method": "m2"}, {"maf": 0.0775, "iqs": 0.959, "method": "m2"},
      {"maf": 0.08, "iqs": 0.956, "method": "m2"}, {"maf": 0.0815, "iqs": 0.966, "method": "m2"}, {"maf": 0.0836, "iqs": 0.959, "method": "m2"},
      {"maf": 0.0866, "iqs": 0.978, "method": "m2"}, {"maf": 0.0886, "iqs": 0.969, "method": "m2"}, {"maf": 0.0902, "iqs": 0.979, "method": "m2"},
      {"maf": 0.0922, "iqs": 0.966, "method": "m2"}, {"maf": 0.0947, "iqs": 0.969, "method": "m2"}, {"maf": 0.0977, "iqs": 0.966, "method": "m2"},
      {"maf": 0.1003, "iqs": 0.976, "method": "m2"}
    ]
  },
  "hconcat": [
    {
      "width": 730,
      "height": 544,
      "title": {"text": "a", "dx": -229.7, "dy": 52},
      "layer": [
        {
          "data": {"name": "bands_a"},
          "mark": {"type": "rect", "color": "black"},
          "encoding": {
            "x": {"field": "maf", "type": "quantitative", "title": "MAF", "scale": {"domain": [-0.0242, 0.5286], "nice": false, "zero": false}, "axis": {"values": [0, 0.1, 0.2, 0.3, 0.4, 0.5], "format": ".1f"}},
            "x2": {"field": "maf_end"},
            "y": {"field": "iqs", "type": "quantitative", "title": "IQS", "scale": {"domain": [-0.05, 1.05], "nice": false, "zero": false}, "axis": {"values": [0, 0.25, 0.5, 0.75, 1], "format": ".2f"}},
            "y2": {"field": "iqs_end"},
            "opacity": {"field": "n", "type": "quantitative", "scale": {"type": "pow", "exponent": 0.55, "domain": [0, 25], "range": [0, 1], "clamp": true}, "legend": null}
          }
        },
        {
          "data": {"name": "points_a"},
          "mark": {"type": "point", "shape": "circle", "filled": false, "size": 36, "strokeWidth": 1.5, "color": "black"},
          "encoding": {
            "x": {"field": "maf", "type": "quantitative", "title": "MAF"},
            "y": {"field": "iqs", "type": "quantitative", "title": "IQS"},
            "opacity": {"field": "n", "type": "quantitative", "legend": null}
          }
        },
        {
          "data": {"name": "fits_a"},
          "transform": [{"filter": "datum.method == 'm1'"}],
          "mark": {"type": "line", "color": "#471466", "strokeWidth": 7.5, "strokeJoin": "round"},
          "encoding": {
            "x": {"field": "maf", "type": "quantitative", "title": "MAF"},
            "y": {"field": "iqs", "type": "quantitative", "title": "IQS"}
          }
        },
        {
          "data": {"name": "fits_a"},
          "transform": [{"filter": "datum.method == 'm2'"}],
          "mark": {"type": "line", "color": "#55C667", "strokeWidth": 7.5, "strokeJoin": "round"},
          "encoding": {
            "x": {"field": "maf", "type": "quantitative", "title": "MAF"},
            "y": {"field": "iqs", "type": "quantitative", "title": "IQS"}
          }
        }
      ]
    },
    {
      "width": 731,
      "height": 544,
      "title": {"text": "b", "dx": -229.7, "dy": 52},
      "layer": [
        {
          "data": {"name": "bands_b"},
          "mark": {"type": "rect", "color": "black"},
          "encoding": {
            "x": {"field": "maf", "type": "quantitative", "title": "MAF", "scale": {"domain": [-0.00506, 0.10576], "nice": false, "zero": false}, "axis": {"values": [0, 0.025, 0.05, 0.075, 0.1], "format": ".3f"}},
            "x2": {"field": "maf_end"},
            "y": {"field": "iqs", "type": "quantitative", "title": "IQS", "scale": {"domain": [-0.05, 1.05], "nice": false, "zero": false}, "axis": {"values": [0, 0.25, 0.5, 0.75, 1], "format": ".2f"}},
            "y2": {"field": "iqs_end"},
            "opacity": {"field": "n", "type": "quantitative", "scale": {"type": "pow", "exponent": 0.55, "domain": [0, 25], "range": [0, 1], "clamp": true}, "legend": null}
          }
        },
        {
          "data": {"name": "points_b"},
          "mark": {"type": "point", "shape": "circle", "filled": false, "size": 36, "strokeWidth": 1.5, "color": "black"},
          "encoding": {
            "x": {"field": "maf", "type": "quantitative", "title": "MAF"},
            "y": {"field": "iqs", "type": "quantitative", "title": "IQS"},
            "opacity": {"field": "n", "type": "quantitative", "legend": null}
          }
        },
        {
          "data": {"name": "fits_b"},
          "transform": [{"filter": "datum.method == 'm1'"}],
          "mark": {"type": "line", "color": "#471466", "strokeWidth": 7.5, "strokeJoin": "round"},
          "encoding": {
            "x": {"field": "maf", "type": "quantitative", "title": "MAF"},
            "y": {"field": "iqs", "type": "quantitative", "title": "IQS"}
          }
        },
        {
          "data": {"name": "fits_b"},
          "transform": [{"filter": "datum.method == 'm2'"}],
          "mark": {"type": "line", "color": "#55C667", "strokeWidth": 7.5, "strokeJoin": "round"},
          "encoding": {
            "x": {"field": "maf", "type": "quantitative", "title": "MAF"},
            "y": {"field": "iqs", "type": "quantitative", "title": "IQS"}
          }
        }
      ]
    }
  ],
  "spacing": 272,
  "bounds": "flush"
}
